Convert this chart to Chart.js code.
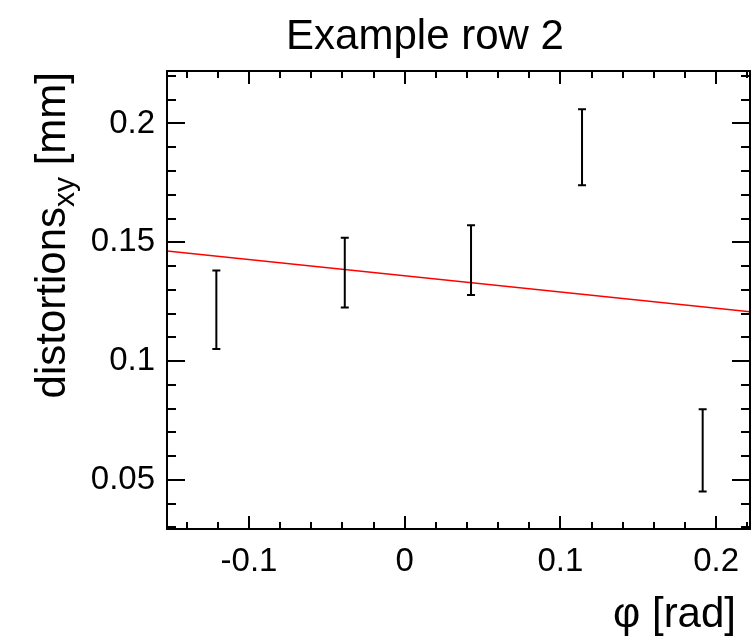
<!DOCTYPE html>
<html>
<head>
<meta charset="utf-8">
<script src="https://cdn.jsdelivr.net/npm/chart.js@4"></script>
<style>
  html, body { margin: 0; padding: 0; background: #fff; }
  #wrap { width: 753px; height: 639px; }
</style>
</head>
<body>
<div id="wrap"><canvas id="c" width="753" height="639"></canvas></div>
<script>
// measured points (phi, distortion, error)
const phi = [-0.121, -0.0385, 0.0426, 0.1139, 0.1914];
const dist = [0.1216, 0.1372, 0.1425, 0.190, 0.0624];
const distErr = [0.0165, 0.0147, 0.0147, 0.016, 0.0173];

// linear fit, read at the two frame edges
const fitX = [-0.1527, 0.2218];
const fitY = [0.1463, 0.1208];

// axes
const xRange = [-0.1527, 0.2218];
const yRange = [0.0293, 0.2221];
const xTicks = [-0.1, 0, 0.1, 0.2];
const yTicks = [0.05, 0.1, 0.15, 0.2];
const xMinor = [-0.14, -0.12, -0.08, -0.06, -0.04, -0.02, 0.02, 0.04, 0.06, 0.08, 0.12, 0.14, 0.16, 0.18, 0.22];
const yMinor = [0.03, 0.04, 0.06, 0.07, 0.08, 0.09, 0.11, 0.12, 0.13, 0.14, 0.16, 0.17, 0.18, 0.19, 0.21, 0.22];

const FONT = "'Liberation Sans', Arial, Helvetica, sans-serif";

// error bars drawn through the chart scales
const errorBars = {
  id: "errorBars",
  afterDatasetsDraw(chart) {
    const { ctx, scales: { x, y } } = chart;
    ctx.save();
    ctx.strokeStyle = "#000";
    ctx.lineWidth = 2;
    phi.forEach((p, i) => {
      const px = x.getPixelForValue(p);
      const top = y.getPixelForValue(dist[i] + distErr[i]);
      const bot = y.getPixelForValue(dist[i] - distErr[i]);
      ctx.beginPath();
      ctx.moveTo(px, top); ctx.lineTo(px, bot);
      ctx.moveTo(px - 4, top); ctx.lineTo(px + 4, top);
      ctx.moveTo(px - 4, bot); ctx.lineTo(px + 4, bot);
      ctx.stroke();
    });
    ctx.restore();
  }
};

// ROOT-like frame with inward ticks on all four sides, plus titles
const frame = {
  id: "frame",
  afterDraw(chart) {
    const { ctx, chartArea: a, scales: { x, y } } = chart;
    ctx.save();
    ctx.strokeStyle = "#000";
    ctx.lineWidth = 2;
    ctx.strokeRect(a.left, a.top, a.right - a.left, a.bottom - a.top);

    ctx.beginPath();
    const xt = (v, len) => {
      const px = Math.round(x.getPixelForValue(v));
      ctx.moveTo(px, a.bottom); ctx.lineTo(px, a.bottom - len);
      ctx.moveTo(px, a.top); ctx.lineTo(px, a.top + len);
    };
    const yt = (v, len) => {
      const py = Math.round(y.getPixelForValue(v));
      ctx.moveTo(a.left, py); ctx.lineTo(a.left + len, py);
      ctx.moveTo(a.right, py); ctx.lineTo(a.right - len, py);
    };
    xTicks.forEach(v => xt(v, 13));
    xMinor.forEach(v => xt(v, 7));
    yTicks.forEach(v => yt(v, 18));
    yMinor.forEach(v => yt(v, 9));
    ctx.stroke();

    ctx.fillStyle = "#000";
    // main title
    ctx.font = "42px " + FONT;
    ctx.textAlign = "center";
    ctx.textBaseline = "alphabetic";
    ctx.fillText("Example row 2", 425, 49);

    // x title
    ctx.textAlign = "right";
    ctx.fillText("\u03c6 [rad]", 736, 627);

    // y title with subscript, rotated
    ctx.translate(65, 72);
    ctx.rotate(-Math.PI / 2);
    ctx.textAlign = "left";
    const big = "42px " + FONT, small = "30px " + FONT;
    ctx.font = big;
    const w1 = ctx.measureText("distortions").width;
    const w3 = ctx.measureText(" [mm]").width;
    ctx.font = small;
    const w2 = ctx.measureText("xy").width;
    let cx = -(w1 + w2 + w3);
    ctx.font = big;
    ctx.fillText("distortions", cx, 0);
    cx += w1;
    ctx.font = small;
    ctx.fillText("xy", cx, 9);
    cx += w2;
    ctx.font = big;
    ctx.fillText(" [mm]", cx, 0);
    ctx.restore();
  }
};

new Chart(document.getElementById("c"), {
  type: "scatter",
  data: {
    datasets: [
      {
        label: "data",
        data: phi.map((p, i) => ({ x: p, y: dist[i] })),
        pointRadius: 0,
        showLine: false,
      },
      {
        type: "line",
        label: "fit",
        data: fitX.map((v, i) => ({ x: v, y: fitY[i] })),
        borderColor: "#ff0000",
        borderWidth: 1.5,
        pointRadius: 0,
        fill: false,
      },
    ],
  },
  options: {
    responsive: false,
    animation: false,
    layout: { padding: { left: 0, top: 71, right: 3, bottom: 0 } },
    plugins: { legend: { display: false }, tooltip: { enabled: false } },
    scales: {
      x: {
        type: "linear",
        min: xRange[0],
        max: xRange[1],
        grid: { display: false, drawTicks: false },
        border: { display: false },
        afterBuildTicks: s => { s.ticks = xTicks.map(v => ({ value: v })); },
        afterFit: s => { s.height = 110; },
        ticks: {
          padding: 13,
          color: "#000",
          font: { family: FONT, size: 33 },
          maxRotation: 0,
          callback: v => String(v),
        },
      },
      y: {
        type: "linear",
        min: yRange[0],
        max: yRange[1],
        grid: { display: false, drawTicks: false },
        border: { display: false },
        afterBuildTicks: s => { s.ticks = yTicks.map(v => ({ value: v })); },
        afterFit: s => { s.width = 167; },
        ticks: {
          padding: 12,
          color: "#000",
          font: { family: FONT, size: 33 },
          callback: v => String(v),
        },
      },
    },
  },
  plugins: [errorBars, frame],
});
</script>
</body>
</html>
